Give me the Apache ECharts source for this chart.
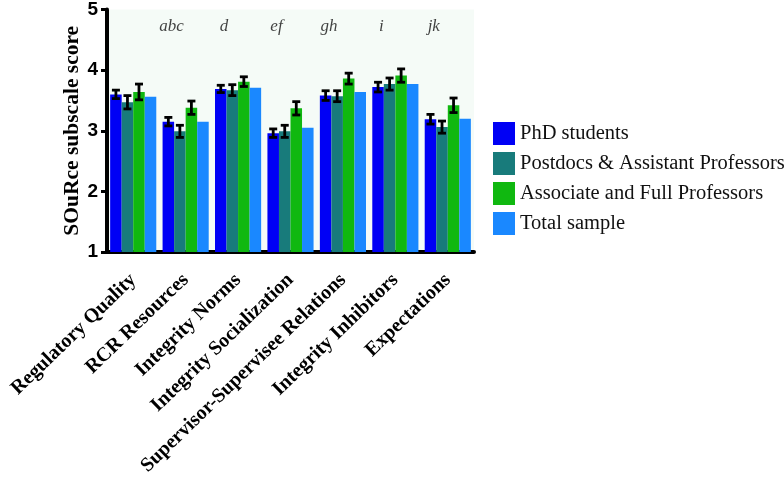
<!DOCTYPE html>
<html><head><meta charset="utf-8">
<script src="https://cdn.jsdelivr.net/npm/echarts@6/dist/echarts.min.js"></script>
<style>html,body{margin:0;padding:0;background:#fff}#c{width:784px;height:483px}</style>
</head><body><div id="c"></div>
<script>
var categories = ['Regulatory Quality','RCR Resources','Integrity Norms','Integrity Socialization','Supervisor-Supervisee Relations','Integrity Inhibitors','Expectations'];
var seriesNames = ['PhD students','Postdocs & Assistant Professors','Associate and Full Professors','Total sample'];
var phd = [3.60, 3.15, 3.69, 2.96, 3.58, 3.72, 3.19];
var postdoc = [3.47, 2.99, 3.67, 2.99, 3.57, 3.77, 3.06];
var assoc = [3.64, 3.38, 3.81, 3.37, 3.86, 3.91, 3.42];
var total = [3.56, 3.15, 3.71, 3.05, 3.64, 3.77, 3.20];
var phdErr = [0.07, 0.07, 0.06, 0.07, 0.08, 0.08, 0.08];
var postdocErr = [0.11, 0.10, 0.09, 0.10, 0.09, 0.10, 0.10];
var assocErr = [0.13, 0.11, 0.08, 0.11, 0.09, 0.11, 0.12];
var sigLabels = ['', 'abc', 'd', 'ef', 'gh', 'i', 'jk'];
var sigY = 4.72;

var colors = ['#0000f5', '#187b7b', '#10b810', '#1a88ff'];
var values = [phd, postdoc, assoc, total];
var errs = [phdErr, postdocErr, assocErr, null];
var gapRatio = 0.12;

var series = [];
values.forEach(function (v, i) {
  series.push({ name: seriesNames[i], type: 'bar', data: v, itemStyle: { color: colors[i] }, barGap: '0%', barCategoryGap: (gapRatio*100)+'%', z: 2 });
});
errs.forEach(function (e, i) {
  if (!e) return;
  var d = values[i].map(function (v, k) { return [k, v - e[k], v + e[k]]; });
  series.push({
    type: 'custom', z: 5, silent: true,
    data: d,
    renderItem: function (params, api) {
      var k = api.value(0);
      var lo = api.coord([k, api.value(1)]);
      var hi = api.coord([k, api.value(2)]);
      var band = api.size([1, 0])[0];
      var bw = band * (1 - gapRatio) / 4;
      var x = lo[0] - band * (1 - gapRatio) / 2 + bw * (i + 0.5);
      var cap = 4;
      var st = { stroke: '#000', lineWidth: 2.8 };
      return { type: 'group', children: [
        { type: 'line', shape: { x1: x, y1: lo[1], x2: x, y2: hi[1] }, style: st },
        { type: 'line', shape: { x1: x - cap, y1: lo[1], x2: x + cap, y2: lo[1] }, style: st },
        { type: 'line', shape: { x1: x - cap, y1: hi[1], x2: x + cap, y2: hi[1] }, style: st }
      ]};
    }
  });
});
series.push({
  type: 'scatter', symbolSize: 0, silent: true, z: 6,
  data: sigLabels.map(function (s, k) { return { value: [k, sigY], name: s }; }),
  label: { show: true, position: 'inside', offset: [-14, 0], formatter: function (p) { return p.name; },
    fontFamily: 'Liberation Serif', fontStyle: 'italic', fontSize: 17, color: '#111' }
});

var chart = echarts.init(document.getElementById('c'), null, { renderer: 'canvas' });
chart.setOption({
  animation: false,
  backgroundColor: '#fff',
  grid: { left: 107, right: 310, top: 9, bottom: 231, show: true, backgroundColor: '#f5fbf7', borderWidth: 0 },
  legend: {
    orient: 'vertical', left: 488, top: 117, itemWidth: 22, itemHeight: 23, itemGap: 7,
    data: seriesNames, icon: 'rect',
    textStyle: { fontFamily: 'Liberation Serif', fontSize: 20.5, color: '#111', padding: [0,0,0,0] }
  },
  xAxis: {
    type: 'category', data: categories,
    axisLine: { lineStyle: { color: '#000', width: 4 } },
    axisTick: { alignWithLabel: true, length: 6, lineStyle: { color: '#000', width: 3 } },
    axisLabel: { rotate: 44, interval: 0, margin: 25, fontFamily: 'Liberation Serif', fontWeight: 'bold', fontSize: 20, color: '#000' }
  },
  yAxis: {
    type: 'value', min: 1, max: 5, interval: 1,
    name: 'SOuRce subscale score', nameLocation: 'middle', nameGap: 24,
    nameTextStyle: { fontFamily: 'Liberation Serif', fontWeight: 'bold', fontSize: 21.5, color: '#000' },
    splitLine: { show: false },
    axisLine: { show: true, lineStyle: { color: '#000', width: 4 } },
    axisTick: { show: true, length: 6, lineStyle: { color: '#000', width: 3 } },
    axisLabel: { margin: 9, fontFamily: 'Liberation Sans', fontWeight: 'bold', fontSize: 19, color: '#000' }
  },
  series: series
});
</script></body></html>
